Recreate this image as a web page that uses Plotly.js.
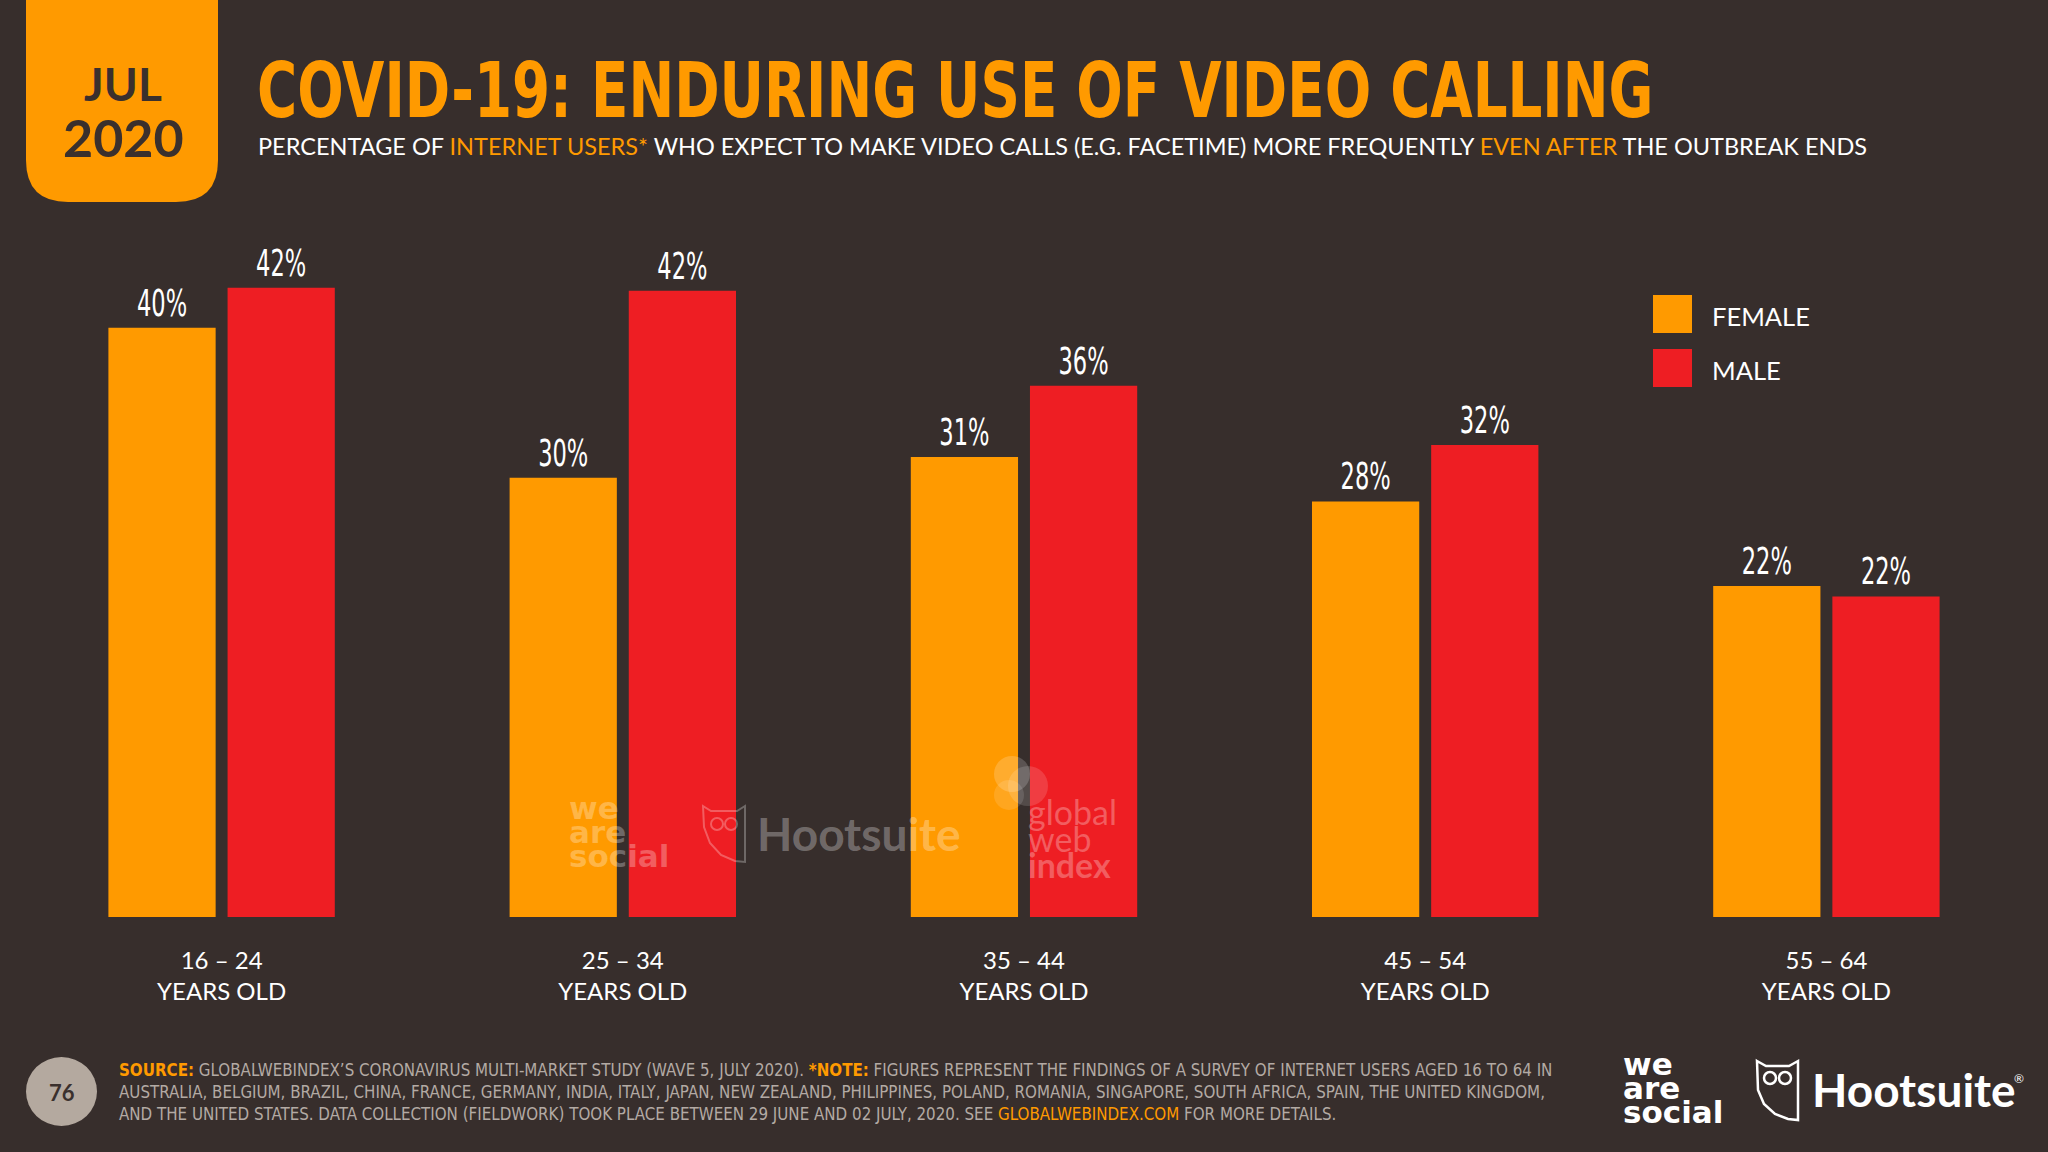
<!DOCTYPE html>
<html>
<head>
<meta charset="utf-8">
<script src="https://cdn.plot.ly/plotly-3.0.1.min.js"></script>
<style>
html,body{margin:0;padding:0;background:#372e2c;}
#chart{width:2048px;height:1152px;}
</style>
</head>
<body>
<div id="chart"></div>
<script>
// ---- data ----
const ageGroups = ['16 – 24', '25 – 34', '35 – 44', '45 – 54', '55 – 64'];
const ageSuffix = 'YEARS OLD';
const female = [39.7, 29.6, 31.0, 28.0, 22.3];
const male = [42.4, 42.2, 35.8, 31.8, 21.6];
const seriesNames = ['FEMALE', 'MALE'];

// ---- style ----
const BG = '#372e2c';
const ORANGE = '#ff9a00';
const RED = '#ee1e23';
const COND = '"Liberation Sans Narrow", "DejaVu Sans Condensed", "Roboto Condensed", sans-serif';
const BODY = 'Lato, "Open Sans", sans-serif';
const LOGO = '"DejaVu Sans", sans-serif';
const W = 2048, H = 1152;
const px = x => x / W;
const py = y => 1 - y / H;

const cats = ageGroups.map(a => a + '<br>' + ageSuffix);

const traces = [
  {type:'bar', name:seriesNames[0], x:cats, y:female, marker:{color:ORANGE},
   texttemplate:'%{y:.0f}%', textposition:'outside', cliponaxis:false,
   textfont:{family:COND, size:38, color:'#ffffff'}, hoverinfo:'skip'},
  {type:'bar', name:seriesNames[1], x:cats, y:male, marker:{color:RED},
   texttemplate:'%{y:.0f}%', textposition:'outside', cliponaxis:false,
   textfont:{family:COND, size:38, color:'#ffffff'}, hoverinfo:'skip'}
];

function rrPath(x0,y0,x1,y1,r){
  return `M${px(x0)},${py(y0)} L${px(x1)},${py(y0)} L${px(x1)},${py(y1-r)} Q${px(x1)},${py(y1)} ${px(x1-r)},${py(y1)} L${px(x0+r)},${py(y1)} Q${px(x0)},${py(y1)} ${px(x0)},${py(y1-r)} Z`;
}
function pathFrom(pts){
  return pts.map((p,i)=>(i?'L':'M')+px(p[0])+','+py(p[1])).join(' ')+' Z';
}

const shapes = [
  // date box
  {type:'path', xref:'paper', yref:'paper', path:rrPath(26,-5,218,202,42), fillcolor:ORANGE, line:{width:0}, layer:'below'},
  // legend swatches
  {type:'rect', xref:'paper', yref:'paper', x0:px(1653), x1:px(1692), y0:py(295), y1:py(333), fillcolor:ORANGE, line:{width:0}},
  {type:'rect', xref:'paper', yref:'paper', x0:px(1653), x1:px(1692), y0:py(349), y1:py(387), fillcolor:RED, line:{width:0}},
  // page number disc
  {type:'circle', xref:'paper', yref:'paper', x0:px(26), x1:px(97), y0:py(1057), y1:py(1126), fillcolor:'#b4a99f', line:{width:0}},
  // footer owl
  {type:'path', xref:'paper', yref:'paper', path:pathFrom([[1757,1061],[1766,1066],[1789,1066],[1798,1061],[1798,1120],[1788,1119],[1775,1114],[1764,1104],[1758,1090]]), fillcolor:'rgba(0,0,0,0)', line:{color:'#ffffff', width:2.5}},
  {type:'circle', xref:'paper', yref:'paper', x0:px(1764), x1:px(1776), y0:py(1072), y1:py(1084), line:{color:'#ffffff', width:2.5}},
  {type:'circle', xref:'paper', yref:'paper', x0:px(1779), x1:px(1791), y0:py(1072), y1:py(1084), line:{color:'#ffffff', width:2.5}},
  // watermark owl
  {type:'path', xref:'paper', yref:'paper', path:pathFrom([[703,806],[711,811],[737,811],[745,806],[745,862],[735,861],[721,855],[710,843],[704,827]]), fillcolor:'rgba(0,0,0,0)', line:{color:'rgba(255,255,255,0.28)', width:2}},
  {type:'circle', xref:'paper', yref:'paper', x0:px(711), x1:px(723), y0:py(818), y1:py(830), line:{color:'rgba(255,255,255,0.28)', width:2}},
  {type:'circle', xref:'paper', yref:'paper', x0:px(725), x1:px(737), y0:py(818), y1:py(830), line:{color:'rgba(255,255,255,0.28)', width:2}},
  // watermark gwi bubbles
  {type:'circle', xref:'paper', yref:'paper', x0:px(994), x1:px(1030), y0:py(756), y1:py(792), fillcolor:'rgba(255,255,255,0.18)', line:{width:0}},
  {type:'circle', xref:'paper', yref:'paper', x0:px(1008), x1:px(1048), y0:py(766), y1:py(806), fillcolor:'rgba(255,255,255,0.14)', line:{width:0}},
  {type:'circle', xref:'paper', yref:'paper', x0:px(994), x1:px(1024), y0:py(780), y1:py(810), fillcolor:'rgba(255,255,255,0.12)', line:{width:0}}
];

const WM = 'rgba(255,255,255,0.28)';
const annotations = [
  // date box
  {xref:'paper', yref:'paper', x:px(123), y:py(84), text:'<b>JUL</b>', showarrow:false, xanchor:'center', yanchor:'middle', font:{family:BODY, size:46, color:'#3a302d'}},
  {xref:'paper', yref:'paper', x:px(123), y:py(137), text:'<b>2020</b>', showarrow:false, xanchor:'center', yanchor:'middle', font:{family:BODY, size:52, color:'#3a302d'}},
  // title + subtitle
  {xref:'paper', yref:'paper', x:px(255), y:py(90), text:'<b>COVID-19: ENDURING USE OF VIDEO CALLING</b>', showarrow:false, xanchor:'left', yanchor:'middle', font:{family:COND, size:76, color:ORANGE}},
  {xref:'paper', yref:'paper', x:px(256), y:py(146), text:'PERCENTAGE OF <span style="color:'+ORANGE+'">INTERNET USERS*</span> WHO EXPECT TO MAKE VIDEO CALLS (E.G. FACETIME) MORE FREQUENTLY <span style="color:'+ORANGE+'">EVEN AFTER</span> THE OUTBREAK ENDS', showarrow:false, xanchor:'left', yanchor:'middle', font:{family:BODY, size:23.5, color:'#ffffff'}},
  // legend text
  {xref:'paper', yref:'paper', x:px(1710), y:py(316), text:seriesNames[0], showarrow:false, xanchor:'left', yanchor:'middle', font:{family:BODY, size:25.5, color:'#ffffff'}},
  {xref:'paper', yref:'paper', x:px(1710), y:py(370), text:seriesNames[1], showarrow:false, xanchor:'left', yanchor:'middle', font:{family:BODY, size:25.5, color:'#ffffff'}},
  // page number
  {xref:'paper', yref:'paper', x:px(61.5), y:py(1092), text:'<b>76</b>', showarrow:false, xanchor:'center', yanchor:'middle', font:{family:BODY, size:22, color:'#3a302d'}},
  // source
  {xref:'paper', yref:'paper', x:px(117), y:py(1092), align:'left', showarrow:false, xanchor:'left', yanchor:'middle',
   text:'<span style="color:'+ORANGE+'"><b>SOURCE:</b></span> GLOBALWEBINDEX’S CORONAVIRUS MULTI-MARKET STUDY (WAVE 5, JULY 2020). <span style="color:'+ORANGE+'"><b>*NOTE:</b></span> FIGURES REPRESENT THE FINDINGS OF A SURVEY OF INTERNET USERS AGED 16 TO 64 IN<br>AUSTRALIA, BELGIUM, BRAZIL, CHINA, FRANCE, GERMANY, INDIA, ITALY, JAPAN, NEW ZEALAND, PHILIPPINES, POLAND, ROMANIA, SINGAPORE, SOUTH AFRICA, SPAIN, THE UNITED KINGDOM,<br>AND THE UNITED STATES. DATA COLLECTION (FIELDWORK) TOOK PLACE BETWEEN 29 JUNE AND 02 JULY, 2020. SEE <span style="color:'+ORANGE+'">GLOBALWEBINDEX.COM</span> FOR MORE DETAILS.',
   font:{family:COND, size:16.8, color:'#b3aaa4'}},
  // footer logos (stacked words, lines tightened after render)
  {xref:'paper', yref:'paper', x:px(1621), y:py(1044), text:'<b>we<br>are<br>social</b>', align:'left', showarrow:false, xanchor:'left', yanchor:'top', font:{family:LOGO, size:31, color:'#ffffff'}},
  {xref:'paper', yref:'paper', x:px(1810), y:py(1089), text:'<b>Hootsuite</b>', showarrow:false, xanchor:'left', yanchor:'middle', font:{family:BODY, size:46, color:'#ffffff'}},
  {xref:'paper', yref:'paper', x:px(2012), y:py(1078), text:'®', showarrow:false, xanchor:'left', yanchor:'middle', font:{family:BODY, size:12, color:'#ffffff'}},
  // watermarks
  {xref:'paper', yref:'paper', x:px(567), y:py(788), text:'<b>we<br>are<br>social</b>', align:'left', showarrow:false, xanchor:'left', yanchor:'top', font:{family:LOGO, size:31, color:WM}},
  {xref:'paper', yref:'paper', x:px(755), y:py(833), text:'<b>Hootsuite</b>', showarrow:false, xanchor:'left', yanchor:'middle', font:{family:BODY, size:46, color:'rgba(255,255,255,0.3)'}},
  {xref:'paper', yref:'paper', x:px(1026), y:py(789), text:'global<br>web<br><b>index</b>', align:'left', showarrow:false, xanchor:'left', yanchor:'top', font:{family:BODY, size:34, color:WM}}
];

const layout = {
  width:W, height:H,
  paper_bgcolor:BG, plot_bgcolor:BG,
  margin:{l:0, r:0, t:0, b:0, pad:0},
  showlegend:false,
  barmode:'group', bargap:0.406, bargroupgap:0.1,
  xaxis:{domain:[px(21), px(2027)], type:'category', showgrid:false, zeroline:false, showline:false, ticks:'', automargin:false,
         tickfont:{family:BODY, size:24, color:'#ffffff'}, ticklabelstandoff:27},
  yaxis:{domain:[py(917), py(175)], range:[0,50], visible:false, showgrid:false, zeroline:false, automargin:false},
  shapes:shapes,
  annotations:annotations,
  font:{family:BODY, color:'#ffffff'}
};

Plotly.newPlot('chart', traces, layout, {staticPlot:true, displayModeBar:false}).then(function(){
  document.querySelectorAll('.annotation-text').forEach(function(t){
    const s = t.textContent;
    if (s.indexOf('COVID-19') === 0) {
      t.style.transformBox = 'fill-box';
      t.style.transformOrigin = '0% 50%';
      t.style.transform = 'scaleX(0.8)';
    }
    let step = null;
    if (s === 'wearesocial') step = 0.78;
    if (s === 'globalwebindex') step = 0.78;
    if (step !== null) {
      t.querySelectorAll('tspan.line').forEach(function(ln, i){
        ln.setAttribute('dy', (i * step) + 'em');
      });
    }
  });
  // condense the value labels around their own centre
  document.querySelectorAll('text.bartext').forEach(function(t){
    const bb = t.getBBox();
    const cx = bb.x + bb.width / 2, cy = bb.y + bb.height;
    const tr = t.getAttribute('transform') || '';
    t.setAttribute('transform', tr + ' translate(' + cx + ',' + cy + ') scale(0.66,1) translate(' + (-cx) + ',' + (-cy) + ')');
  });
});
</script>
</body>
</html>
